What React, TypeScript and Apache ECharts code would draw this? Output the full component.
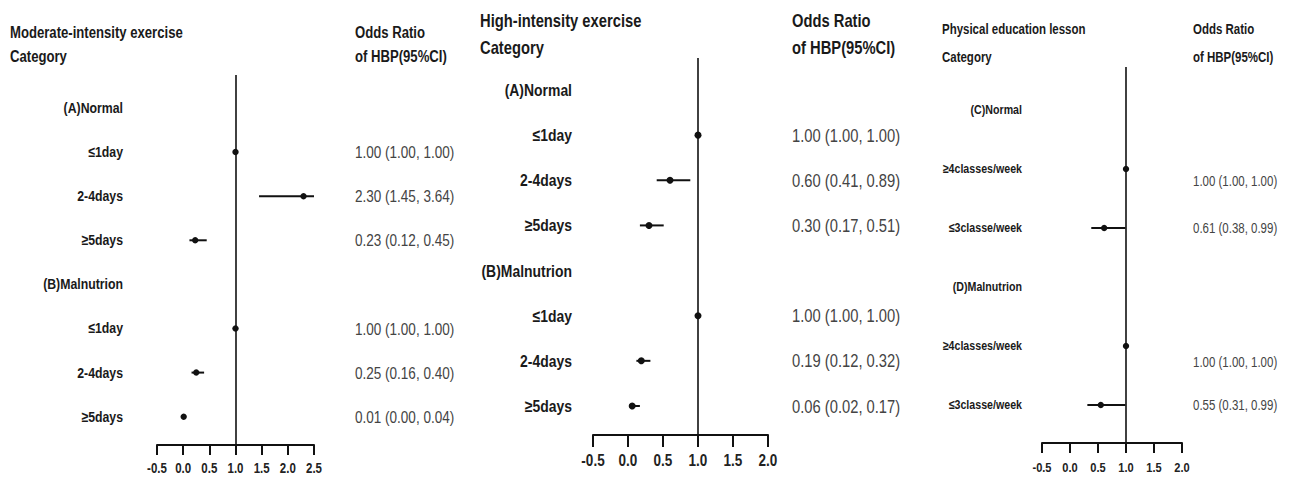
import React, { useEffect, useRef } from "react";
import * as echarts from "echarts";

// ---------- DATA ----------
const modCategories = ["(A)Normal", "≤1day", "2-4days", "≥5days", "(B)Malnutrion", "≤1day", "2-4days", "≥5days"];
const modOR = [null, 1.0, 2.3, 0.23, null, 1.0, 0.25, 0.01];
const modLow = [null, 1.0, 1.45, 0.12, null, 1.0, 0.16, 0.0];
const modHigh = [null, 1.0, 3.64, 0.45, null, 1.0, 0.4, 0.04];

const highCategories = ["(A)Normal", "≤1day", "2-4days", "≥5days", "(B)Malnutrion", "≤1day", "2-4days", "≥5days"];
const highOR = [null, 1.0, 0.6, 0.3, null, 1.0, 0.19, 0.06];
const highLow = [null, 1.0, 0.41, 0.17, null, 1.0, 0.12, 0.02];
const highHigh = [null, 1.0, 0.89, 0.51, null, 1.0, 0.32, 0.17];

const peCategories = ["(C)Normal", "≥4classes/week", "≤3classe/week", "(D)Malnutrion", "≥4classes/week", "≤3classe/week"];
const peOR = [null, 1.0, 0.61, null, 1.0, 0.55];
const peLow = [null, 1.0, 0.38, null, 1.0, 0.31];
const peHigh = [null, 1.0, 0.99, null, 1.0, 0.99];

const modTicks = [-0.5, 0.0, 0.5, 1.0, 1.5, 2.0, 2.5];
const shortTicks = [-0.5, 0.0, 0.5, 1.0, 1.5, 2.0];

const panelTitles = ["Moderate-intensity exercise", "High-intensity exercise", "Physical education lesson"];
const subTitle = "Category";
const orHeader = ["Odds Ratio", "of HBP(95%CI)"];

// ---------- LAYOUT ----------
const FONT = '"Liberation Sans", Arial, sans-serif';
const NARROW = 0.82; // emulate Arial Narrow
const INK = "#1a1a1a";
const VALUE_INK = "#444444";

const panels = [
  {
    cats: modCategories, or: modOR, low: modLow, high: modHigh, ticks: modTicks,
    grid: { left: 157, top: 75, width: 157, height: 370 },
    yMin: -0.748, yMax: 7.642,
    catFont: 15, catMargin: 34, valFont: 16.5, valMargin: 41,
    valShift: [0, 0, 0, 0, 0, 0, 0, 0],
    tickFont: 14, tickLen: 10, tickMargin: 16, dot: 3.2,
    title: { x: 10, y1: 33, y2: 57, size: 16 }, header: { x: 355 },
  },
  {
    cats: highCategories, or: highOR, low: highLow, high: highHigh, ticks: shortTicks,
    grid: { left: 593, top: 58, width: 175, height: 377 },
    yMin: -0.709, yMax: 7.643,
    catFont: 17, catMargin: 21, valFont: 18, valMargin: 24,
    valShift: [0, 0, 0, 0, 0, 0, 0, 0],
    tickFont: 16.5, tickLen: 12, tickMargin: 16, dot: 3.5,
    title: { x: 480, y1: 20, y2: 47, size: 18 }, header: { x: 792 },
  },
  {
    cats: peCategories, or: peOR, low: peLow, high: peHigh, ticks: shortTicks,
    grid: { left: 1042, top: 67, width: 140, height: 376 },
    yMin: -0.729, yMax: 5.644,
    catFont: 13, catMargin: 20, valFont: 14, valMargin: 11,
    valShift: [0, 0.2, 0, 0, 0.27, 0],
    tickFont: 13.5, tickLen: 10, tickMargin: 18, dot: 3.2,
    title: { x: 942, y1: 29, y2: 57, size: 14 }, header: { x: 1193 },
  },
];

const fmt = (v: number) => v.toFixed(2);

function narrowText(text: string, x: number, y: number, size: number, bold: boolean, fill: string, align: string, vAlign: string) {
  return {
    type: "text", x, y, scaleX: NARROW, scaleY: 1,
    style: {
      text, fill, fontFamily: FONT, fontWeight: bold ? "bold" : "normal", fontSize: size,
      align, verticalAlign: vAlign,
    },
  };
}

function buildOption() {
  const grids: any[] = [];
  const xAxes: any[] = [];
  const yAxes: any[] = [];
  const series: any[] = [];
  const graphics: any[] = [];

  panels.forEach((p, i) => {
    grids.push({ ...p.grid, containLabel: false });
    const xmin = p.ticks[0];
    const xmax = p.ticks[p.ticks.length - 1];
    xAxes.push({
      type: "value", gridIndex: i, min: xmin, max: xmax, interval: 0.5, position: "bottom",
      axisLine: { show: true, onZero: false, lineStyle: { color: "#111", width: 2 } },
      axisTick: { show: true, inside: false, length: p.tickLen, lineStyle: { color: "#111", width: 2 } },
      axisLabel: { show: false },
      splitLine: { show: false },
    });
    yAxes.push({
      type: "value", gridIndex: i, inverse: true, min: p.yMin, max: p.yMax,
      axisLine: { show: false }, axisTick: { show: false }, splitLine: { show: false },
      axisLabel: { show: false },
    });

    // forest plot marks: CI line + point estimate
    const data: number[][] = [];
    const valueTexts: string[] = [];
    const valuePos: number[] = [];
    p.or.forEach((o, k) => {
      if (o == null) return;
      data.push([o, p.low[k] as number, p.high[k] as number, k]);
      valueTexts.push(`${fmt(o)} (${fmt(p.low[k] as number)}, ${fmt(p.high[k] as number)})`);
      valuePos.push(k + p.valShift[k]);
    });

    series.push({
      type: "custom", xAxisIndex: i, yAxisIndex: i, data, silent: true,
      encode: { x: [0, 1, 2], y: 3 },
      clip: false,
      renderItem: (_params: any, api: any) => {
        const o = api.value(0), lo = api.value(1), hi = api.value(2), row = api.value(3);
        const c = api.coord([o, row]);
        const a = api.coord([Math.max(lo, xmin), row]);
        const b = api.coord([Math.min(hi, xmax), row]);
        return {
          type: "group",
          children: [
            { type: "line", shape: { x1: a[0], y1: a[1], x2: b[0], y2: b[1] }, style: { stroke: "#111", lineWidth: 2 } },
            { type: "circle", shape: { cx: c[0], cy: c[1], r: p.dot }, style: { fill: "#111" } },
          ],
        };
      },
      markLine: {
        silent: true, symbol: "none", label: { show: false },
        lineStyle: { color: "#111", width: 1.6, type: "solid" },
        data: [{ xAxis: 1 }],
      },
      z: 3,
    });

    // category labels (left)
    series.push({
      type: "custom", xAxisIndex: i, yAxisIndex: i, silent: true, clip: false,
      data: p.cats.map((_, k) => [xmin, k]),
      encode: { x: 0, y: 1 },
      renderItem: (params: any, api: any) => {
        const c = api.coord([xmin, api.value(1)]);
        return narrowText(p.cats[params.dataIndex], c[0] - p.catMargin, c[1], p.catFont, true, INK, "right", "middle");
      },
    });

    // value labels (right)
    series.push({
      type: "custom", xAxisIndex: i, yAxisIndex: i, silent: true, clip: false,
      data: valuePos.map((pos) => [xmax, pos]),
      encode: { x: 0, y: 1 },
      renderItem: (params: any, api: any) => {
        const c = api.coord([xmax, api.value(1)]);
        return narrowText(valueTexts[params.dataIndex], c[0] + p.valMargin, c[1], p.valFont, false, VALUE_INK, "left", "middle");
      },
    });

    // x tick labels
    series.push({
      type: "custom", xAxisIndex: i, yAxisIndex: i, silent: true, clip: false,
      data: p.ticks.map((v) => [v, p.yMax]),
      encode: { x: 0, y: 1 },
      renderItem: (params: any, api: any) => {
        const c = api.coord([api.value(0), p.yMax]);
        return narrowText(p.ticks[params.dataIndex].toFixed(1), c[0], c[1] + p.tickMargin, p.tickFont, true, "#222", "center", "top");
      },
    });

    const t = p.title;
    graphics.push(narrowText(panelTitles[i], t.x, t.y1, t.size, true, INK, "left", "middle"));
    graphics.push(narrowText(subTitle, t.x, t.y2, t.size, true, INK, "left", "middle"));
    graphics.push(narrowText(orHeader[0], p.header.x, t.y1, t.size, true, INK, "left", "middle"));
    graphics.push(narrowText(orHeader[1], p.header.x, t.y2, t.size, true, INK, "left", "middle"));
  });

  return {
    animation: false,
    backgroundColor: "#ffffff",
    grid: grids,
    xAxis: xAxes,
    yAxis: yAxes,
    series,
    graphic: graphics,
  };
}

export default function App() {
  const ref = useRef<HTMLDivElement>(null);
  useEffect(() => {
    if (!ref.current) return;
    const chart = echarts.init(ref.current, undefined, { renderer: "svg" });
    chart.setOption(buildOption());
    return () => chart.dispose();
  }, []);
  return (
    <div
      ref={ref}
      style={{ position: "absolute", left: 0, top: 0, width: 1289, height: 477, background: "#fff" }}
    />
  );
}
